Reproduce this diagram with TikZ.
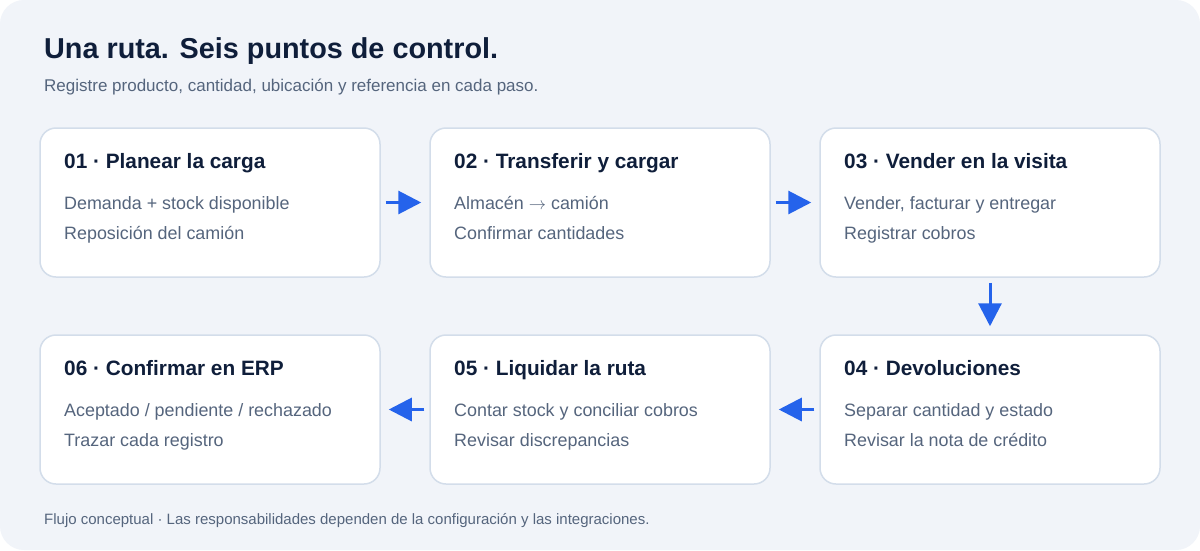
\documentclass[tikz,border=0pt]{standalone}
\usepackage{fontspec}
\setmainfont{Liberation Sans}
\usetikzlibrary{arrows.meta}
\definecolor{bgpanel}{HTML}{F1F4F9}
\definecolor{cardline}{HTML}{D3DDEA}
\definecolor{inkdark}{HTML}{0F1E3A}
\definecolor{inksoft}{HTML}{55657D}
\definecolor{flowblue}{HTML}{2563EB}
\begin{document}
\begin{tikzpicture}[x=1pt, y=-1pt,
  card/.style={draw=cardline, line width=1.5pt, fill=white, rounded corners=16pt, minimum width=340pt, minimum height=149pt, inner sep=0pt},
  ctitle/.style={anchor=base west, inner sep=0pt, text=inkdark, font=\fontsize{20.8}{25}\selectfont\bfseries},
  cbody/.style={anchor=base west, inner sep=0pt, text=inksoft, font=\fontsize{17.9}{21}\selectfont},
  flow/.style={draw=flowblue, line width=3pt, -{Triangle[width=23pt, length=23pt]}, flowblue}]
\fill[white] (0,0) rectangle (1200,550);
\fill[bgpanel, rounded corners=24pt] (0,0) rectangle (1200,550);
% header
\node[anchor=base west, inner sep=0pt, text=inkdark, font=\fontsize{28.8}{34}\selectfont\bfseries] (head) at (44,58) {Una ruta. Seis puntos de control.};
\node[anchor=base west, inner sep=0pt, text=inksoft, font=\fontsize{17}{20}\selectfont] (sub) at (44,91) {Registre producto, cantidad, ubicación y referencia en cada paso.};
% row 1
\node[card] (c1) at (210,202.5){};
\node[ctitle] (t1) at (64,168){01 · Planear la carga};
\node[cbody] (b1a) at (64,209){Demanda + stock disponible};
\node[cbody] (b1b) at (64,239){Reposición del camión};
\node[card] (c2) at (600,202.5){};
\node[ctitle] (t2) at (454,168){02 · Transferir y cargar};
\node[cbody] (b2a) at (454,209){Almacén $\rightarrow$ camión};
\node[cbody] (b2b) at (454,239){Confirmar cantidades};
\node[card] (c3) at (990,202.5){};
\node[ctitle] (t3) at (844,168){03 · Vender en la visita};
\node[cbody] (b3a) at (844,209){Vender, facturar y entregar};
\node[cbody] (b3b) at (844,239){Registrar cobros};
% row 2
\node[card] (c4) at (990,409.5){};
\node[ctitle] (t4) at (844,375){04 · Devoluciones};
\node[cbody] (b4a) at (844,416){Separar cantidad y estado};
\node[cbody] (b4b) at (844,446){Revisar la nota de crédito};
\node[card] (c5) at (600,409.5){};
\node[ctitle] (t5) at (454,375){05 · Liquidar la ruta};
\node[cbody] (b5a) at (454,416){Contar stock y conciliar cobros};
\node[cbody] (b5b) at (454,446){Revisar discrepancias};
\node[card] (c6) at (210,409.5){};
\node[ctitle] (t6) at (64,375){06 · Confirmar en ERP};
\node[cbody] (b6a) at (64,416){Aceptado / pendiente / rechazado};
\node[cbody] (b6b) at (64,446){Trazar cada registro};
% connectors
\draw[flow, shorten <=5pt, shorten >=8pt](c1) -- (c2);
\draw[flow, shorten <=5pt, shorten >=8pt](c2) -- (c3);
\draw[flow, shorten <=5pt, shorten >=8pt](c3) -- (c4);
\draw[flow, shorten <=5pt, shorten >=8pt](c4) -- (c5);
\draw[flow, shorten <=5pt, shorten >=8pt](c5) -- (c6);
% footer
\node[anchor=base west, inner sep=0pt, text=inksoft, font=\fontsize{15}{18}\selectfont] (foot) at (44,524) {Flujo conceptual · Las responsabilidades dependen de la configuración y las integraciones.};
\end{tikzpicture}
\end{document}
